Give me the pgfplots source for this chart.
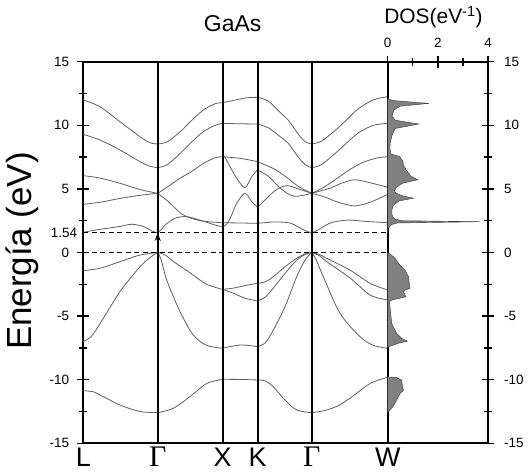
\documentclass[border=0pt]{standalone}
\usepackage{fontspec}
\setmainfont{Liberation Sans}
\newfontfamily\grkfont{Liberation Serif}
\usepackage{pgfplots}
\pgfplotsset{compat=1.18}
\usetikzlibrary{arrows.meta}
\definecolor{bandcol}{HTML}{5E5E5E}
\definecolor{dosfill}{HTML}{808080}
\newcommand{\Gam}{{\grkfont\fontsize{30}{30}\selectfont Γ}}
\begin{document}
\begin{tikzpicture}
\useasboundingbox (0bp,0bp) rectangle (529bp,472bp);
\pgfplotsset{
  band/.style={smooth, bandcol, line width=0.8bp, mark=none},
  sym/.style={black, line width=1.8bp, mark=none},
}
% band structure
\begin{axis}[
  at={(83.3bp,28.7bp)}, anchor=south west,
  scale only axis, width=304.4bp, height=381.6bp,
  xmin=0, xmax=304.4, ymin=-15, ymax=15,
  line width=1.7bp,
  xtick={0,74.4,139.4,174.2,228.4,304.4},
  xticklabels={L,\Gam,X,K,\Gam,W},
  xtick pos=left,
  xticklabel style={font=\fontsize{27}{27}\selectfont, inner sep=1bp, yshift=4bp, text height=19.5bp},
  ytick={-15,-10,-5,0,5,10,15},
  yticklabels={-15,-10,-5,0,5,10,15},
  minor ytick={-12.5,-7.5,-2.5,2.5,7.5,12.5},
  extra y ticks={1.54}, extra y tick labels={1.54},
  extra y tick style={tick style={draw=none}, yticklabel style={xshift=8bp}},
  ytick pos=left,
  yticklabel style={font=\fontsize{13.5}{15}\selectfont, xshift=-4bp},
  tick align=center, major tick length=12bp, minor tick length=8bp,
  tick style={black, line width=1.3bp},
  xtick style={draw=none},
  clip=false,
]
% L - Gamma
\addplot[band] coordinates {(0,11.99)(16.7,11.46)(36.7,10.28)(56.7,9.1)(66.7,8.63)(74.4,8.53)};
\addplot[band] coordinates {(0,9.29)(16.7,8.84)(36.7,8.06)(56.7,7.14)(66.7,6.78)(74.4,6.67)};
\addplot[band] coordinates {(0,6.04)(16.7,5.85)(36.7,5.44)(56.7,4.95)(74.4,4.65)};
\addplot[band] coordinates {(0,3.79)(16.7,3.95)(36.7,4.25)(56.7,4.5)(74.4,4.65)};
\addplot[band] coordinates {(0,1.59)(16.7,1.82)(36.7,2.05)(48.4,2.22)(60,2.05)(68.4,1.7)(74.4,1.54)};
\addplot[band] coordinates {(0,-1.43)(16.7,-1.24)(36.7,-0.72)(56.7,-0.2)(74.4,0)};
\addplot[band] coordinates {(0,-7.01)(8,-6.6)(16.7,-5.6)(36.7,-3.08)(56.7,-1.12)(66.7,-0.4)(74.4,0)};
\addplot[band] coordinates {(0,-10.86)(10,-10.95)(16.7,-11.2)(36.7,-11.99)(56.7,-12.5)(74.4,-12.59)};
% Gamma - X
\addplot[band] coordinates {(74.4,8.53)(84,8.7)(97,9.5)(107,10.28)(120,11.2)(132,11.7)(139.4,11.78)};
\addplot[band] coordinates {(74.4,6.67)(84,6.9)(97,7.8)(107,8.58)(120,9.5)(132,10.0)(139.4,10.15)};
\addplot[band] coordinates {(74.4,4.65)(85,5.2)(97,5.85)(107,6.3)(120,7.0)(132,7.45)(139.4,7.53)};
\addplot[band] coordinates {(74.4,4.65)(85,4.0)(98.4,3.03)(111.7,2.6)(125,2.42)(139.4,2.34)};
\addplot[band] coordinates {(74.4,1.54)(78,1.8)(81.7,2.16)(91.7,2.69)(103.4,2.82)(118.4,2.5)(131.7,2.16)(139.4,2.03)};
\addplot[band] coordinates {(74.4,0)(82,-0.2)(90,-0.7)(106.7,-1.6)(123.4,-2.5)(139.4,-2.9)};
\addplot[band] coordinates {(74.4,0)(78,-0.6)(83.4,-2.16)(96.7,-4.65)(110,-6.49)(123.4,-7.3)(139.4,-7.53)};
\addplot[band] coordinates {(74.4,-12.59)(90,-12.25)(106.7,-11.33)(123.4,-10.3)(139.4,-9.97)};
% X - K
\addplot[band] coordinates {(139.4,11.78)(150,11.95)(162,12.15)(174.2,12.2)};
\addplot[band] coordinates {(139.4,10.15)(157,10.12)(174.2,10.1)};
\addplot[band] coordinates {(139.4,7.53)(157,7.4)(174.2,7.14)};
\addplot[band] coordinates {(139.4,7.53)(142,7.45)(145,7.0)(153.4,5.83)(161.7,5.1)(168.4,5.96)(174.2,6.49)};
\addplot[band] coordinates {(139.4,2.34)(157,2.32)(174.2,2.29)};
\addplot[band] coordinates {(139.4,2.03)(143,2.2)(147,2.7)(153.4,3.87)(161.7,4.65)(168.4,4.0)(174.2,3.55)};
\addplot[band] coordinates {(139.4,-2.9)(150,-2.8)(162,-2.6)(174.2,-2.42)};
\addplot[band] coordinates {(139.4,-2.9)(150,-3.2)(162,-3.6)(174.2,-3.81)};
\addplot[band] coordinates {(139.4,-7.53)(157,-7.27)(174.2,-7.4)};
\addplot[band] coordinates {(139.4,-9.97)(157,-9.98)(174.2,-10.02)};
% K - Gamma
\addplot[band] coordinates {(174.2,12.2)(185,11.9)(197,11.0)(205,10.4)(215,9.3)(222,8.7)(228.4,8.53)};
\addplot[band] coordinates {(174.2,10.1)(185,9.8)(197,9.1)(205,8.58)(215,7.5)(222,6.9)(228.4,6.67)};
\addplot[band] coordinates {(174.2,7.14)(190,6.6)(201.7,6.0)(215,5.2)(228.4,4.65)};
\addplot[band] coordinates {(174.2,6.49)(185,6.0)(195,5.2)(203,4.7)(211,4.42)(220,4.5)(228.4,4.65)};
\addplot[band] coordinates {(174.2,3.55)(180,4.0)(190,4.75)(198,5.15)(205,5.25)(215,5.0)(228.4,4.65)};
\addplot[band] coordinates {(174.2,2.29)(190,2.4)(200,2.38)(207.5,2.3)(217.5,1.9)(224,1.65)(228.4,1.54)};
\addplot[band] coordinates {(174.2,-2.42)(182,-2.3)(190,-1.9)(201.7,-1.12)(213.4,-0.45)(222,-0.1)(228.4,0)};
\addplot[band] coordinates {(174.2,-3.81)(182,-3.5)(190,-2.8)(201.7,-1.64)(213.4,-0.6)(222,-0.15)(228.4,0)};
\addplot[band] coordinates {(174.2,-7.4)(182,-7.1)(190,-6.1)(201.7,-4.26)(213.4,-1.9)(221.7,-0.6)(228.4,0)};
\addplot[band] coordinates {(174.2,-10.02)(182,-10.1)(190,-10.55)(201.7,-11.6)(213.4,-12.38)(228.4,-12.59)};
% Gamma - W
\addplot[band] coordinates {(228.4,8.53)(238,8.75)(252,9.6)(263,10.4)(275,11.3)(290,12.0)(304.4,12.25)};
\addplot[band] coordinates {(228.4,6.67)(238,6.9)(252,7.8)(263,8.58)(275,9.4)(290,10.0)(304.4,10.15)};
\addplot[band] coordinates {(228.4,4.65)(240,5.1)(255,5.9)(266,6.5)(280,7.1)(295,7.45)(304.4,7.53)};
\addplot[band] coordinates {(228.4,4.65)(240,4.9)(248.4,5.1)(258.4,5.45)(271.7,5.72)(288.4,5.45)(304.4,5.13)};
\addplot[band] coordinates {(228.4,4.65)(240,4.4)(255,3.95)(271.7,3.66)(288.4,4.0)(304.4,4.57)};
\addplot[band] coordinates {(228.4,1.54)(233,1.7)(238.4,1.95)(245,2.25)(251.7,2.42)(265,2.55)(281.7,2.45)(304.4,2.34)};
\addplot[band] coordinates {(228.4,0)(236,-0.15)(243.4,-0.46)(266.7,-1.38)(286.7,-2.42)(304.4,-2.95)};
\addplot[band] coordinates {(228.4,0)(236,-0.25)(243.4,-0.72)(266.7,-2.0)(286.7,-3.34)(304.4,-3.73)};
\addplot[band] coordinates {(228.4,0)(233,-0.6)(240,-1.9)(256.7,-4.78)(276.7,-6.62)(290,-7.3)(304.4,-7.53)};
\addplot[band] coordinates {(228.4,-12.59)(240,-12.45)(253.4,-12.1)(266.7,-11.46)(286.7,-10.3)(304.4,-9.81)};
% high-symmetry lines, gap lines, arrow
\addplot[sym] coordinates {(74.4,-15)(74.4,15)};
\addplot[sym] coordinates {(139.4,-15)(139.4,15)};
\addplot[sym] coordinates {(174.4,-15)(174.4,15)};
\addplot[sym] coordinates {(228.4,-15)(228.4,15)};
\addplot[black, line width=1.0bp, dash pattern=on 5bp off 3.5bp, mark=none] coordinates {(0,0)(304.4,0)};
\addplot[black, line width=1.0bp, dash pattern=on 5bp off 3.5bp, mark=none] coordinates {(0,1.54)(304.4,1.54)};
\addplot[black, line width=1.6bp, mark=none, -{Stealth[length=8bp,width=6bp]}] coordinates {(74.4,0)(74.4,1.54)};
\end{axis}
% density of states
\begin{axis}[
  at={(387.7bp,28.7bp)}, anchor=south west,
  scale only axis, width=100.3bp, height=381.6bp,
  xmin=0, xmax=4, ymin=-15, ymax=15,
  line width=1.7bp,
  xtick={0,2,4}, xticklabels={0,2,4}, minor xtick={1,3},
  xtick pos=right, xticklabel pos=right,
  xticklabel style={font=\fontsize{13.5}{15}\selectfont, yshift=4bp},
  ytick={-15,-10,-5,0,5,10,15},
  yticklabels={-15,-10,-5,0,5,10,15},
  minor ytick={-12.5,-7.5,-2.5,2.5,7.5,12.5},
  ytick pos=right, yticklabel pos=right,
  yticklabel style={font=\fontsize{13.5}{15}\selectfont, xshift=6bp},
  tick align=center, major tick length=12bp, minor tick length=8bp,
  tick style={black, line width=1.3bp},
]
\addplot[fill=dosfill, draw=black!80, line width=0.4bp, mark=none] coordinates {
(0,1.54)(0.02,1.8)(0.07,2.03)(0.15,2.2)(0.4,2.32)(3.67,2.42)(0.6,2.5)(0.3,2.62)
(0.2,2.8)(0.17,3.0)(0.17,3.35)(0.22,3.7)(0.45,4.05)(1.03,4.27)(0.6,4.45)(0.3,4.7)
(0.27,4.9)(0.4,5.2)(0.6,5.45)(1.2,5.72)(0.93,6.0)(0.73,6.5)(0.63,6.9)(0.6,7.2)
(0.47,7.55)(0.12,7.75)(0.09,8.2)(0.1,8.6)(0.17,9.2)(0.3,9.75)(1.24,10.1)(0.3,10.4)
(0.17,10.75)(0.25,11.2)(0.5,11.5)(1.64,11.72)(0.2,11.95)(0,12.1)
} -- cycle;
\addplot[fill=dosfill, draw=black!80, line width=0.4bp, mark=none] coordinates {
(0,0)(0.15,-0.2)(0.29,-0.46)(0.49,-1.0)(0.69,-1.38)(0.83,-1.9)(0.87,-2.56)
(0.89,-2.82)(0.69,-2.95)(0.63,-3.1)(0.73,-3.48)(0.16,-3.74)(0.07,-3.87)(0.12,-4.79)
(0.16,-5.58)(0.36,-6.37)(0.56,-6.76)(0.79,-6.97)(0.4,-7.15)(0.03,-7.42)(0,-7.5)
} -- cycle;
\addplot[fill=dosfill, draw=black!80, line width=0.4bp, mark=none] coordinates {
(0,-9.78)(0.36,-9.83)(0.56,-10.04)(0.59,-10.57)(0.63,-10.83)(0.49,-11.1)
(0.36,-11.6)(0.2,-12.14)(0,-12.55)
} -- cycle;
\end{axis}
\node[font=\fontsize{23}{23}\selectfont, anchor=base] at (232.6bp,440bp) {GaAs};
\node[font=\fontsize{21}{21}\selectfont, anchor=base] at (433.5bp,448bp) {DOS(eV\textsuperscript{-1})};
\node[font=\fontsize{35}{35}\selectfont, rotate=90] at (22bp,221bp) {Energía (eV)};
\end{tikzpicture}
\end{document}
